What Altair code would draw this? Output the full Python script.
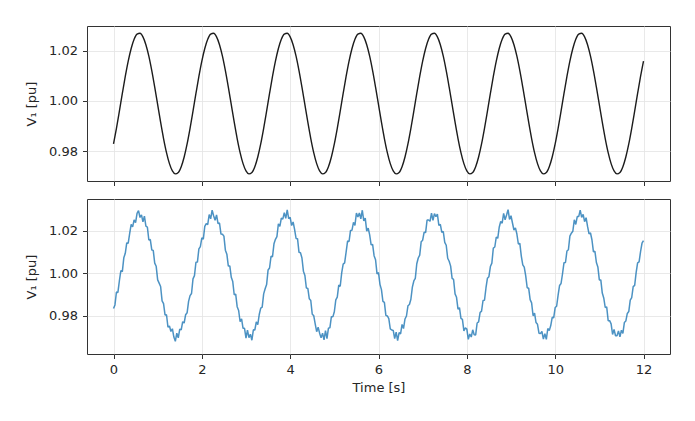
import altair as alt
import pandas as pd

# Smooth measured voltage V1 [pu], sampled every 1/15 s from 0 to 12 s
v_smooth = [
    0.98294, 0.98915, 0.99598, 1.00299, 1.00976, 1.01585, 1.02088, 1.02454, 1.02659, 1.02691,
    1.02547, 1.02237, 1.01781, 1.01206, 1.00549, 0.99851, 0.99156, 0.98508, 0.97948, 0.97510,
    0.97222, 0.97103, 0.97159, 0.97388, 0.97774,
    0.98294, 0.98915, 0.99598, 1.00299, 1.00976, 1.01585, 1.02088, 1.02454, 1.02659, 1.02691,
    1.02547, 1.02237, 1.01781, 1.01206, 1.00549, 0.99851, 0.99156, 0.98508, 0.97948, 0.97510,
    0.97222, 0.97103, 0.97159, 0.97388, 0.97774,
    0.98294, 0.98915, 0.99598, 1.00299, 1.00976, 1.01585, 1.02088, 1.02454, 1.02659, 1.02691,
    1.02547, 1.02237, 1.01781, 1.01206, 1.00549, 0.99851, 0.99156, 0.98508, 0.97948, 0.97510,
    0.97222, 0.97103, 0.97159, 0.97388, 0.97774,
    0.98294, 0.98915, 0.99598, 1.00299, 1.00976, 1.01585, 1.02088, 1.02454, 1.02659, 1.02691,
    1.02547, 1.02237, 1.01781, 1.01206, 1.00549, 0.99851, 0.99156, 0.98508, 0.97948, 0.97510,
    0.97222, 0.97103, 0.97159, 0.97388, 0.97774,
    0.98294, 0.98915, 0.99598, 1.00299, 1.00976, 1.01585, 1.02088, 1.02454, 1.02659, 1.02691,
    1.02547, 1.02237, 1.01781, 1.01206, 1.00549, 0.99851, 0.99156, 0.98508, 0.97948, 0.97510,
    0.97222, 0.97103, 0.97159, 0.97388, 0.97774,
    0.98294, 0.98915, 0.99598, 1.00299, 1.00976, 1.01585, 1.02088, 1.02454, 1.02659, 1.02691,
    1.02547, 1.02237, 1.01781, 1.01206, 1.00549, 0.99851, 0.99156, 0.98508, 0.97948, 0.97510,
    0.97222, 0.97103, 0.97159, 0.97388, 0.97774,
    0.98294, 0.98915, 0.99598, 1.00299, 1.00976, 1.01585, 1.02088, 1.02454, 1.02659, 1.02691,
    1.02547, 1.02237, 1.01781, 1.01206, 1.00549, 0.99851, 0.99156, 0.98508, 0.97948, 0.97510,
    0.97222, 0.97103, 0.97159, 0.97388, 0.97774,
    0.98294, 0.98915, 0.99598, 1.00299, 1.00976, 1.01585,
]

# Noisy measurement of V1 [pu], sampled every 1/30 s from 0 to 12 s
v_noisy = [
    0.9834, 0.9851, 0.9912, 0.9910, 0.9965, 1.0013, 1.0008, 1.0073, 1.0094, 1.0143,
    1.0142, 1.0188, 1.0230, 1.0219, 1.0252, 1.0239, 1.0282, 1.0295, 1.0263, 1.0275,
    1.0242, 1.0269, 1.0222, 1.0218, 1.0157, 1.0159, 1.0110, 1.0108, 1.0048, 1.0033,
    0.9969, 0.9954, 0.9938, 0.9870, 0.9857, 0.9804, 0.9805, 0.9746, 0.9752, 0.9726,
    0.9739, 0.9700, 0.9680, 0.9718, 0.9696, 0.9737, 0.9734, 0.9772, 0.9766, 0.9805,
    0.9814, 0.9868, 0.9895, 0.9905, 0.9974, 0.9989, 1.0052, 1.0053, 1.0115, 1.0126,
    1.0167, 1.0161, 1.0221, 1.0234, 1.0229, 1.0277, 1.0257, 1.0297, 1.0271, 1.0250,
    1.0275, 1.0234, 1.0237, 1.0185, 1.0184, 1.0175, 1.0109, 1.0090, 1.0034, 1.0035,
    0.9981, 0.9961, 0.9899, 0.9902, 0.9843, 0.9825, 0.9772, 0.9785, 0.9741, 0.9741,
    0.9695, 0.9732, 0.9697, 0.9713, 0.9685, 0.9734, 0.9733, 0.9771, 0.9758, 0.9806,
    0.9836, 0.9841, 0.9903, 0.9927, 0.9947, 1.0016, 1.0025, 1.0080, 1.0078, 1.0139,
    1.0160, 1.0173, 1.0233, 1.0221, 1.0260, 1.0255, 1.0286, 1.0259, 1.0299, 1.0257,
    1.0264, 1.0225, 1.0242, 1.0207, 1.0164, 1.0163, 1.0099, 1.0097, 1.0072, 1.0010,
    0.9990, 0.9931, 0.9929, 0.9880, 0.9872, 0.9807, 0.9801, 0.9762, 0.9725, 0.9746,
    0.9718, 0.9696, 0.9718, 0.9687, 0.9730, 0.9692, 0.9742, 0.9744, 0.9796, 0.9795,
    0.9819, 0.9875, 0.9888, 0.9944, 0.9939, 1.0002, 1.0043, 1.0049, 1.0100, 1.0152,
    1.0150, 1.0202, 1.0203, 1.0240, 1.0226, 1.0284, 1.0265, 1.0284, 1.0257, 1.0297,
    1.0247, 1.0260, 1.0199, 1.0213, 1.0181, 1.0134, 1.0136, 1.0083, 1.0064, 0.9997,
    1.0003, 0.9948, 0.9923, 0.9868, 0.9863, 0.9802, 0.9799, 0.9787, 0.9738, 0.9733,
    0.9731, 0.9693, 0.9723, 0.9683, 0.9721, 0.9715, 0.9759, 0.9740, 0.9785, 0.9799,
    0.9847, 0.9853, 0.9878, 0.9935, 0.9964, 0.9976, 1.0045, 1.0072, 1.0086, 1.0149,
    1.0156, 1.0194, 1.0192, 1.0251, 1.0251, 1.0245, 1.0283, 1.0249, 1.0281, 1.0267,
    1.0279, 1.0226, 1.0231, 1.0193, 1.0197, 1.0146, 1.0132, 1.0071, 1.0057, 1.0034,
    0.9976, 0.9971, 0.9903, 0.9887, 0.9831, 0.9838, 0.9788, 0.9783, 0.9729, 0.9743,
    0.9737, 0.9689, 0.9714, 0.9700, 0.9734, 0.9711, 0.9710, 0.9766, 0.9771, 0.9815,
    0.9822, 0.9872, 0.9873, 0.9931, 0.9977, 0.9984, 1.0032, 1.0048, 1.0119, 1.0124,
    1.0171, 1.0165, 1.0217, 1.0244, 1.0236, 1.0282, 1.0252, 1.0275, 1.0300, 1.0254,
    1.0271, 1.0237, 1.0204, 1.0214, 1.0185, 1.0138, 1.0141, 1.0081, 1.0040, 1.0029,
    0.9988, 0.9932, 0.9930, 0.9876, 0.9861, 0.9800, 0.9812, 0.9768, 0.9760, 0.9718,
    0.9716, 0.9726, 0.9690, 0.9716, 0.9689, 0.9740, 0.9730, 0.9754, 0.9793, 0.9790,
    0.9839, 0.9845, 0.9897, 0.9943, 0.9952, 0.9998, 1.0050, 1.0051, 1.0105, 1.0111,
    1.0175, 1.0189, 1.0198, 1.0252, 1.0230, 1.0267, 1.0267, 1.0298, 1.0263, 1.0278,
    1.0243, 1.0262, 1.0221, 1.0186, 1.0190, 1.0157, 1.0101, 1.0104, 1.0051, 1.0030,
    0.9969, 0.9969, 0.9907, 0.9884, 0.9839, 0.9842, 0.9777, 0.9777, 0.9762, 0.9712,
    0.9736, 0.9706, 0.9706, 0.9729, 0.9701, 0.9732, 0.9717, 0.9768, 0.9775, 0.9811,
    0.9820, 0.9874, 0.9886, 0.9937, 0.9943, 1.0003, 1.0049, 1.0054, 1.0102, 1.0142,
    1.0154,
]

x_ticks = [0, 2, 4, 6, 8, 10, 12]
y_ticks = [0.98, 1.00, 1.02]
y_title = "V\u2081 [pu]"
x_title = "Time [s]"

df_top = pd.DataFrame({"t": [i / 15 for i in range(len(v_smooth))], "v": v_smooth})
df_bot = pd.DataFrame({"t": [i / 30 for i in range(len(v_noisy))], "v": v_noisy})

W, H = 583, 155
x_scale = alt.Scale(domain=[-0.6, 12.6], nice=False, zero=False)

top = (
    alt.Chart(df_top)
    .mark_line(color="#1c1c1c", strokeWidth=1.4, interpolate="monotone")
    .encode(
        x=alt.X("t:Q", scale=x_scale,
                axis=alt.Axis(values=x_ticks, labels=False, title=None)),
        y=alt.Y("v:Q", scale=alt.Scale(domain=[0.9682, 1.0298], nice=False, zero=False),
                axis=alt.Axis(values=y_ticks, format=".2f", title=y_title)),
    )
    .properties(width=W, height=H)
)

bot = (
    alt.Chart(df_bot)
    .mark_line(color="#1f77b4", strokeWidth=1.5, opacity=0.8, strokeJoin="bevel")
    .encode(
        x=alt.X("t:Q", scale=x_scale,
                axis=alt.Axis(values=x_ticks, format="d", title=x_title)),
        y=alt.Y("v:Q", scale=alt.Scale(domain=[0.962, 1.035], nice=False, zero=False),
                axis=alt.Axis(values=y_ticks, format=".2f", title=y_title)),
    )
    .properties(width=W, height=H)
)

chart = (
    alt.vconcat(top, bot, spacing=11)
    .properties(padding={"left": 17, "top": 17, "right": 10, "bottom": 10})
    .configure(font="DejaVu Sans")
    .configure_view(stroke="#333333", strokeWidth=1)
    .configure_axis(
        domain=False,
        grid=True,
        gridColor="#e3e3e3",
        gridWidth=0.8,
        ticks=True,
        tickColor="#333333",
        tickSize=4.5,
        tickWidth=1,
        labelFont="DejaVu Sans",
        labelFontSize=13,
        labelColor="#262626",
        labelPadding=5,
        titleFont="DejaVu Sans",
        titleFontSize=13,
        titleFontWeight="normal",
        titleColor="#262626",
    )
    .configure_axisY(titlePadding=10)
    .configure_axisX(titlePadding=5)
)

chart.save("out.html", embed_options={"renderer": "svg", "actions": False})
